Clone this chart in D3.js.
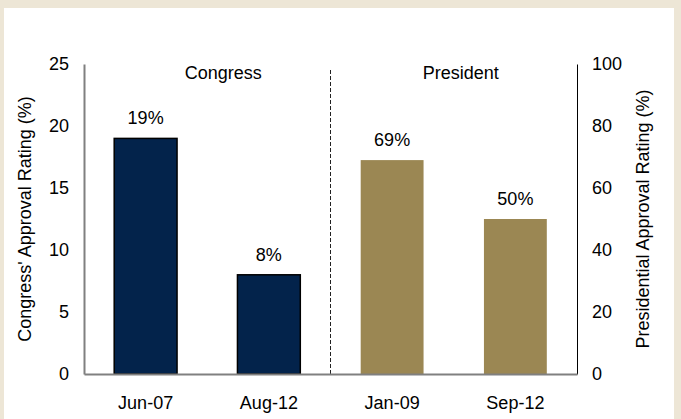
<!DOCTYPE html>
<html>
<head>
<meta charset="utf-8">
<title>Approval ratings</title>
<script src="https://cdn.jsdelivr.net/npm/d3@7"></script>
<style>
  body { margin: 0; background: #ede6d6; }
  svg { display: block; font-family: "Liberation Sans", Arial, sans-serif; }
</style>
</head>
<body>
<div id="ChartArea"></div>
<script>
// data
const congressDates = ["Jun-07", "Aug-12"];
const congressValues = [19, 8];
const presidentDates = ["Jan-09", "Sep-12"];
const presidentValues = [69, 50];
const leftTicks = [0, 5, 10, 15, 20, 25];
const rightTicks = [0, 20, 40, 60, 80, 100];

const W = 681, H = 419;
const margin = {top: 64, right: 104, bottom: 45, left: 84};
const width = W - margin.left - margin.right;
const height = H - margin.top - margin.bottom;

const svg = d3.select("#ChartArea").append("svg")
  .attr("width", W).attr("height", H);

// beige frame + white panel
svg.append("rect").attr("width", W).attr("height", H).attr("fill", "#ede6d6");
svg.append("rect").attr("x", 4).attr("y", 8).attr("width", 670).attr("height", H - 8).attr("fill", "#fff");

const g = svg.append("g").attr("transform", "translate(" + margin.left + "," + margin.top + ")");

const x = d3.scaleBand()
  .domain(congressDates.concat(presidentDates))
  .range([0, width])
  .paddingInner(0.49).paddingOuter(0.245);

const yL = d3.scaleLinear().domain([0, 25]).range([height, 0]);
const yR = d3.scaleLinear().domain([0, 100]).range([height, 0]);

const congress = congressDates.map((d, i) => ({date: d, value: congressValues[i]}));
const president = presidentDates.map((d, i) => ({date: d, value: presidentValues[i]}));

// bars
g.selectAll(".cbar").data(congress).enter().append("rect")
  .attr("class", "cbar")
  .attr("x", d => x(d.date))
  .attr("y", d => yL(d.value))
  .attr("width", x.bandwidth())
  .attr("height", d => height - yL(d.value))
  .attr("fill", "#03234b")
  .attr("stroke", "#000").attr("stroke-width", 1.5);

g.selectAll(".pbar").data(president).enter().append("rect")
  .attr("class", "pbar")
  .attr("x", d => x(d.date))
  .attr("y", d => yR(d.value))
  .attr("width", x.bandwidth())
  .attr("height", d => height - yR(d.value))
  .attr("fill", "#9b8753");

// value labels
g.selectAll(".clab").data(congress).enter().append("text")
  .attr("x", d => x(d.date) + x.bandwidth() / 2)
  .attr("y", d => yL(d.value) - 14)
  .attr("text-anchor", "middle").attr("font-size", 18)
  .text(d => d.value + "%");

g.selectAll(".plab").data(president).enter().append("text")
  .attr("x", d => x(d.date) + x.bandwidth() / 2)
  .attr("y", d => yR(d.value) - 14)
  .attr("text-anchor", "middle").attr("font-size", 18)
  .text(d => d.value + "%");

// divider
const divX = (x("Aug-12") + x.bandwidth() + x("Jan-09")) / 2;
g.append("line")
  .attr("x1", divX).attr("x2", divX)
  .attr("y1", 6).attr("y2", height)
  .attr("stroke", "#222").attr("stroke-width", 1)
  .attr("stroke-dasharray", "4,2");

// group titles
g.append("text").attr("x", divX / 2 + 16).attr("y", 15)
  .attr("text-anchor", "middle").attr("font-size", 18).text("Congress");
g.append("text").attr("x", (divX + width) / 2 + 7).attr("y", 15)
  .attr("text-anchor", "middle").attr("font-size", 18).text("President");

// axes
const axL = g.append("g")
  .call(d3.axisLeft(yL).tickValues(leftTicks).tickSize(0).tickPadding(15));
axL.select(".domain").attr("stroke", "#808080").attr("stroke-width", 2);
axL.selectAll("text").attr("font-size", 18).attr("fill", "#000").attr("font-family", "Liberation Sans, Arial, sans-serif");

const axR = g.append("g").attr("transform", "translate(" + width + ",0)")
  .call(d3.axisRight(yR).tickValues(rightTicks).tickSize(0).tickPadding(15));
axR.select(".domain").attr("stroke", "#000").attr("stroke-width", 1);
axR.selectAll("text").attr("font-size", 18).attr("fill", "#000").attr("font-family", "Liberation Sans, Arial, sans-serif");

const axB = g.append("g").attr("transform", "translate(0," + height + ")")
  .call(d3.axisBottom(x).tickSize(0).tickPadding(22));
axB.select(".domain").attr("stroke", "#808080").attr("stroke-width", 2);
axB.selectAll("text").attr("font-size", 18).attr("fill", "#000").attr("font-family", "Liberation Sans, Arial, sans-serif");

// axis titles
svg.append("text")
  .attr("transform", "translate(31," + (margin.top + height / 2) + ") rotate(-90)")
  .attr("text-anchor", "middle").attr("font-size", 18)
  .text("Congress' Approval Rating (%)");
svg.append("text")
  .attr("transform", "translate(649," + (margin.top + height / 2) + ") rotate(-90)")
  .attr("text-anchor", "middle").attr("font-size", 18)
  .text("Presidential Approval Rating (%)");
</script>
</body>
</html>
